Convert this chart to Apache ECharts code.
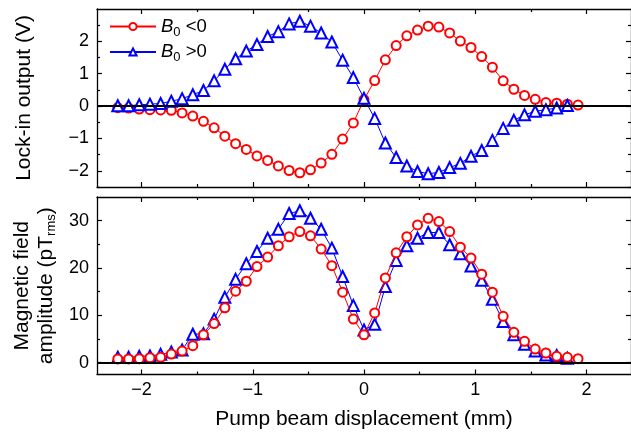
<!DOCTYPE html>
<html>
<head>
<meta charset="utf-8">
<script src="https://cdn.jsdelivr.net/npm/echarts@6/dist/echarts.min.js"></script>
<style>
html,body{margin:0;padding:0;background:#fff;}
#c{width:631px;height:441px;}
</style>
</head>
<body>
<div id="c"></div>
<script>
// Pump beam displacement (mm)
const xDisp = [-2.213,-2.116,-2.020,-1.924,-1.828,-1.732,-1.635,-1.539,-1.443,-1.347,-1.251,-1.154,-1.058,-0.962,-0.866,-0.770,-0.673,-0.577,-0.481,-0.385,-0.289,-0.192,-0.096,0,0.096,0.192,0.289,0.385,0.481,0.577,0.673,0.770,0.866,0.962,1.058,1.154,1.251,1.347,1.443,1.539,1.635,1.732,1.828,1.924];
// Lock-in output (V)
const lockNeg = [-0.05,-0.06,-0.09,-0.11,-0.12,-0.13,-0.21,-0.31,-0.47,-0.67,-0.93,-1.16,-1.34,-1.54,-1.68,-1.85,-1.99,-2.06,-1.97,-1.76,-1.49,-1.02,-0.52,0.2,0.79,1.43,1.87,2.17,2.35,2.47,2.44,2.26,2.01,1.81,1.53,1.20,0.78,0.52,0.33,0.21,0.11,0.09,0.06,0.03];
const lockPos = [0.01,0.01,0.04,0.06,0.08,0.15,0.23,0.35,0.48,0.78,1.14,1.46,1.70,1.90,2.15,2.30,2.54,2.62,2.47,2.26,1.98,1.42,0.88,0.24,-0.38,-1.14,-1.59,-1.85,-2.02,-2.09,-2.05,-1.90,-1.77,-1.55,-1.37,-1.06,-0.69,-0.44,-0.27,-0.16,-0.11,-0.06,0.02];
// Magnetic field amplitude (pT_rms)
const fieldNeg = [0.78,0.78,0.85,1.05,1.12,1.82,2.45,3.58,5.9,8.27,11.6,15.1,17.2,20.3,22.3,24.7,26.6,27.7,26.8,24.0,20.5,14.9,9.2,5.9,10.5,17.9,23.2,26.6,29.1,30.5,29.8,27.7,24.4,22.1,18.7,14.9,9.8,6.4,4.5,2.88,2.04,1.34,1.13,0.85];
const fieldPos = [1.13,1.13,1.34,1.41,1.76,2.25,2.67,6.0,6.1,9.2,13.8,17.6,20.9,23.5,26.3,28.2,31.5,32.1,30.5,28.2,24.2,18.2,12.1,6.9,8.1,16.1,21.6,24.7,26.3,27.5,27.5,24.9,23.0,20.4,17.4,13.4,8.7,5.9,3.9,2.45,1.6,1.5,0.92];
// ticks
const xMajor = [-2,-1,0,1,2];
const xMinor = [-1.5,-0.5,0.5,1.5];
const yTopMajor = [-2,-1,0,1,2];
const yTopMinor = [-2.5,-1.5,-0.5,0.5,1.5,2.5];
const yBotMajor = [0,10,20,30];
const yBotMinor = [5,15,25];
const legendNames = ['B0 <0','B0 >0'];

const FONT = 'Liberation Sans, Arial, sans-serif';
const minus = v => v < 0 ? '\u2212' + (-v) : String(v);
const pair = (arr) => arr.map((v,i)=>[xDisp[i], v]);

function xAx(grid, pos, ticks, len, lineShow, labels) {
  return {
    type:'value', gridIndex:grid, position:pos, min:-2.4, max:2.4,
    axisLine:{show:lineShow, onZero:false, lineStyle:{color:'#000', width:1.3}},
    axisTick:{show:true, inside:true, length:len, customValues:ticks, lineStyle:{color:'#000', width:1.2}},
    axisLabel:{show:!!labels, customValues:ticks, formatter:minus, margin:7, color:'#000', fontSize:18, fontFamily:FONT},
    splitLine:{show:false}
  };
}
function yAx(grid, pos, min, max, ticks, len, lineShow, labels, extra) {
  return Object.assign({
    type:'value', gridIndex:grid, position:pos, min:min, max:max,
    axisLine:{show:lineShow, onZero:false, lineStyle:{color:'#000', width:1.3}},
    axisTick:{show:true, inside:true, length:len, customValues:ticks, lineStyle:{color:'#000', width:1.2}},
    axisLabel:{show:!!labels, customValues:ticks, formatter:minus, margin:8, color:'#000', fontSize:18, fontFamily:FONT},
    splitLine:{show:false}
  }, extra || {});
}

const chart = echarts.init(document.getElementById('c'), null, {renderer:'canvas'});
const symStyle = (c)=>({color:c, borderColor:c, borderWidth:1.2});
const zeroLine = {silent:true, symbol:'none', label:{show:false}, lineStyle:{color:'#000', width:2, type:'solid'}, data:[{yAxis:0}], animation:false};

chart.setOption({
  animation:false,
  backgroundColor:'#fff',
  grid:[
    {left:97, top:9, width:537, height:178},
    {left:97, top:197, width:537, height:177.5}
  ],
  legend:{
    orient:'vertical', left:104, top:12, itemWidth:46, itemHeight:9, itemGap:4,
    data:legendNames,
    formatter:function(n){ return n === legendNames[0] ? '{b|B}{s|0}{t| <0}' : '{b|B}{s|0}{t| >0}'; },
    textStyle:{fontFamily:FONT, fontSize:18, color:'#000', rich:{
      b:{fontStyle:'italic', fontSize:18.5, fontFamily:FONT, lineHeight:24, verticalAlign:'middle'},
      s:{fontSize:13, fontFamily:FONT, lineHeight:14, verticalAlign:'bottom'},
      t:{fontSize:18.5, fontFamily:FONT, lineHeight:24, verticalAlign:'middle'}
    }}
  },
  xAxis:[
    xAx(0,'bottom',xMajor,5,true,false),
    xAx(0,'bottom',xMinor,3,false,false),
    xAx(0,'top',xMajor,5,true,false),
    xAx(0,'top',xMinor,3,false,false),
    Object.assign(xAx(1,'bottom',xMajor,5,true,true), {name:'Pump beam displacement (mm)', nameLocation:'middle', nameGap:34, nameTextStyle:{fontSize:21, fontFamily:FONT, color:'#000'}}),
    xAx(1,'bottom',xMinor,3,false,false),
    xAx(1,'top',xMajor,5,true,false),
    xAx(1,'top',xMinor,3,false,false)
  ],
  yAxis:[
    yAx(0,'left',-2.5,3,yTopMajor,5,true,true,{name:'Lock-in output (V)', nameLocation:'middle', nameGap:62, nameTextStyle:{fontSize:21, fontFamily:FONT, color:'#000'}}),
    yAx(0,'left',-2.5,3,yTopMinor,3,false,false),
    yAx(0,'right',-2.5,3,yTopMajor,5,true,false),
    yAx(0,'right',-2.5,3,yTopMinor,3,false,false),
    yAx(1,'left',-2.5,35,yBotMajor,5,true,true,{name:'{t|Magnetic field}\n{t|amplitude (pT}{s|rms}{t|)}', nameLocation:'middle', nameGap:38, nameTextStyle:{fontSize:21, fontFamily:FONT, color:'#000', rich:{
      t:{fontSize:21, fontFamily:FONT, lineHeight:24, verticalAlign:'middle'},
      s:{fontSize:13, fontFamily:FONT, lineHeight:13, verticalAlign:'bottom'}
    }}}),
    yAx(1,'left',-2.5,35,yBotMinor,3,false,false),
    yAx(1,'right',-2.5,35,yBotMajor,5,true,false),
    yAx(1,'right',-2.5,35,yBotMinor,3,false,false)
  ],
  series:[
    {name:legendNames[0], type:'line', xAxisIndex:0, yAxisIndex:0, data:pair(lockNeg), symbol:'emptyCircle', symbolSize:9, lineStyle:{color:'#ff0000', width:1}, itemStyle:symStyle('#ff0000'), markLine:zeroLine, z:3},
    {name:legendNames[1], type:'line', xAxisIndex:0, yAxisIndex:0, data:pair(lockPos), symbol:'emptyTriangle', symbolSize:11, lineStyle:{color:'#0000ff', width:1}, itemStyle:symStyle('#0000ff'), z:4},
    {name:legendNames[1], type:'line', xAxisIndex:4, yAxisIndex:4, data:pair(fieldPos), symbol:'emptyTriangle', symbolSize:11, lineStyle:{color:'#0000ff', width:1}, itemStyle:symStyle('#0000ff'), markLine:zeroLine, z:3},
    {name:legendNames[0], type:'line', xAxisIndex:4, yAxisIndex:4, data:pair(fieldNeg), symbol:'emptyCircle', symbolSize:9, lineStyle:{color:'#ff0000', width:1}, itemStyle:symStyle('#ff0000'), z:4}
  ]
});
</script>
</body>
</html>
